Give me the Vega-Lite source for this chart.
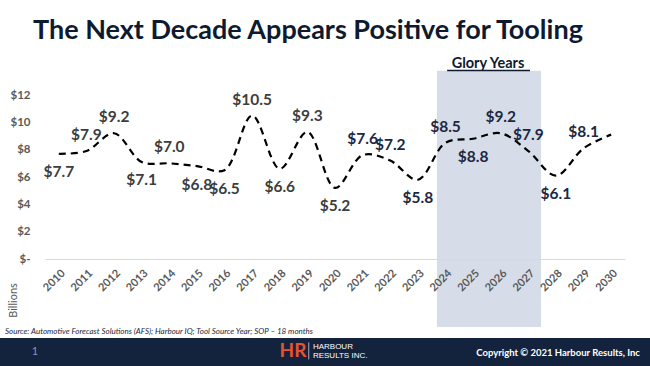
{
  "$schema": "https://vega.github.io/schema/vega-lite/v6.json",
  "width": 580,
  "height": 164,
  "autosize": {"type": "none"},
  "padding": {"left": 45, "top": 95, "right": 25, "bottom": 107},
  "background": "#ffffff",
  "resolve": {"axis": {"x": "independent", "y": "independent"}},
  "config": {
    "view": {"stroke": null},
    "axis": {"labelOverlap": false, "labelFlush": false, "labelBound": false, "ticks": false, "grid": false},
    "axisX": {
      "labelAngle": -45,
      "labelAlign": "right",
      "labelBaseline": "top",
      "domainColor": "#d9d9d9",
      "domainWidth": 1.2,
      "labelColor": "#595959",
      "labelFont": "Lato",
      "labelFontWeight": "bold",
      "labelFontSize": 11,
      "labelPadding": 8
    },
    "axisY": {
      "domain": false,
      "labelPadding": 15,
      "labelColor": "#595959",
      "labelFont": "Lato",
      "labelFontWeight": "bold",
      "labelFontSize": 11.5,
      "titleFont": "Lato",
      "titleFontWeight": "normal",
      "titleFontSize": 11,
      "titleColor": "#595959",
      "titleAngle": 270,
      "titleAlign": "center",
      "titleBaseline": "middle",
      "titleX": -32,
      "titleY": 205
    }
  },
  "title": {
    "text": "The Next Decade Appears Positive for Tooling",
    "anchor": "start",
    "frame": "group",
    "dx": -12,
    "dy": 30,
    "font": "Lato",
    "fontWeight": "bold",
    "fontSize": 27,
    "color": "#0e1a30",
    "baseline": "alphabetic",
    "offset": 20
  },
  "data": {
    "values": [
      {"year": 2010, "value": 7.7},
      {"year": 2011, "value": 7.9},
      {"year": 2012, "value": 9.2},
      {"year": 2013, "value": 7.1},
      {"year": 2014, "value": 7.0},
      {"year": 2015, "value": 6.8},
      {"year": 2016, "value": 6.5},
      {"year": 2017, "value": 10.5},
      {"year": 2018, "value": 6.6},
      {"year": 2019, "value": 9.3},
      {"year": 2020, "value": 5.2},
      {"year": 2021, "value": 7.6},
      {"year": 2022, "value": 7.2},
      {"year": 2023, "value": 5.8},
      {"year": 2024, "value": 8.5},
      {"year": 2025, "value": 8.8},
      {"year": 2026, "value": 9.2},
      {"year": 2027, "value": 7.9},
      {"year": 2028, "value": 6.1},
      {"year": 2029, "value": 8.1},
      {"year": 2030, "value": 9.1}
    ]
  },
  "layer": [
    {
      "data": {"values": [{}]},
      "mark": {"type": "rect", "color": "#d6dde8"},
      "encoding": {
        "x": {"datum": 2023.69, "type": "quantitative", "axis": null},
        "x2": {"datum": 2027.46},
        "y": {"datum": 13.78, "type": "quantitative", "axis": null},
        "y2": {"datum": -4.98}
      }
    },
    {
      "mark": {"type": "line", "interpolate": "catmull-rom", "strokeDash": [7, 5], "strokeWidth": 2.2, "color": "#000000"},
      "encoding": {
        "x": {
          "field": "year", "type": "quantitative",
          "scale": {"domain": [2009.5, 2030.5], "nice": false, "zero": false},
          "axis": {
            "values": [2010, 2011, 2012, 2013, 2014, 2015, 2016, 2017, 2018, 2019, 2020, 2021, 2022, 2023, 2024, 2025, 2026, 2027, 2028, 2029, 2030],
            "format": "d",
            "title": null,
            "labelOverlap": false,
            "zindex": 1
          }
        },
        "y": {
          "field": "value", "type": "quantitative",
          "scale": {"domain": [0, 12], "nice": false, "zero": false},
          "axis": {
            "values": [0, 2, 4, 6, 8, 10, 12],
            "labelExpr": "datum.value == 0 ? '$-  ' : '$' + datum.value",
            "title": "Billions",
            "labelOverlap": false,
            "zindex": 1
          }
        }
      }
    },
    {
      "transform": [{"filter": {"field": "year", "oneOf": [2011, 2012, 2014, 2017, 2019, 2021, 2022, 2024, 2026, 2027, 2029]}}],
      "mark": {"type": "text", "dy": -16, "baseline": "middle", "align": "center", "font": "Lato", "fontWeight": "bold", "fontSize": 15.5},
      "encoding": {
        "x": {"field": "year", "type": "quantitative", "axis": null},
        "y": {"field": "value", "type": "quantitative", "axis": null},
        "text": {"field": "value", "type": "quantitative", "format": "$.1f"},
        "color": {"condition": {"test": "datum.year >= 2021", "value": "#1c2840"}, "value": "#3d3d3d"}
      }
    },
    {
      "transform": [{"filter": {"field": "year", "oneOf": [2010, 2013, 2015, 2016, 2018, 2020, 2023, 2025, 2028]}}],
      "mark": {"type": "text", "dy": 18.5, "baseline": "middle", "align": "center", "font": "Lato", "fontWeight": "bold", "fontSize": 15.5},
      "encoding": {
        "x": {"field": "year", "type": "quantitative", "axis": null},
        "y": {"field": "value", "type": "quantitative", "axis": null},
        "text": {"field": "value", "type": "quantitative", "format": "$.1f"},
        "color": {"condition": {"test": "datum.year >= 2021", "value": "#1c2840"}, "value": "#3d3d3d"}
      }
    },
    {
      "data": {"values": [{}]},
      "mark": {"type": "text", "text": "Glory Years", "font": "Lato", "fontWeight": "bold", "fontSize": 14.5, "color": "#0e1a30", "align": "center", "baseline": "alphabetic"},
      "encoding": {
        "x": {"datum": 2025.54, "type": "quantitative", "axis": null},
        "y": {"datum": 14.0, "type": "quantitative", "axis": null}
      }
    },
    {
      "data": {"values": [{}]},
      "mark": {"type": "rule", "color": "#0e1a30", "strokeWidth": 1.5},
      "encoding": {
        "x": {"datum": 2024.06, "type": "quantitative", "axis": null},
        "x2": {"datum": 2027.06},
        "y": {"datum": 13.8, "type": "quantitative", "axis": null}
      }
    },
    {
      "data": {"values": [{}]},
      "mark": {"type": "rect", "color": "#13233d"},
      "encoding": {
        "x": {"datum": 2007.7, "type": "quantitative", "axis": null},
        "x2": {"datum": 2031.6},
        "y": {"datum": -5.78, "type": "quantitative", "axis": null},
        "y2": {"datum": -8.5}
      }
    },
    {
      "data": {"values": [{}]},
      "mark": {"type": "text", "text": "Source: Automotive Forecast Solutions (AFS); Harbour IQ; Tool Source Year; SOP – 18 months", "font": "Lato", "fontStyle": "italic", "fontSize": 8, "color": "#1c2840", "align": "left", "baseline": "middle"},
      "encoding": {
        "x": {"datum": 2008.05, "type": "quantitative", "axis": null},
        "y": {"datum": -5.34, "type": "quantitative", "axis": null}
      }
    },
    {
      "data": {"values": [{}]},
      "mark": {"type": "text", "text": "1", "font": "Lato", "fontSize": 11, "color": "#8797b0", "align": "center", "baseline": "middle"},
      "encoding": {
        "x": {"datum": 2009.14, "type": "quantitative", "axis": null},
        "y": {"datum": -6.81, "type": "quantitative", "axis": null}
      }
    },
    {
      "data": {"values": [{}]},
      "mark": {"type": "text", "text": "HR", "font": "Lato", "fontWeight": "bold", "fontSize": 19, "color": "#e8532e", "align": "center", "baseline": "middle"},
      "encoding": {
        "x": {"datum": 2018.48, "type": "quantitative", "axis": null},
        "y": {"datum": -6.73, "type": "quantitative", "axis": null}
      }
    },
    {
      "data": {"values": [{}]},
      "mark": {"type": "rule", "color": "#c8d0dc", "strokeWidth": 0.8},
      "encoding": {
        "x": {"datum": 2019.05, "type": "quantitative", "axis": null},
        "y": {"datum": -6.1, "type": "quantitative", "axis": null},
        "y2": {"datum": -7.35}
      }
    },
    {
      "data": {"values": [{}]},
      "mark": {"type": "text", "text": "HARBOUR", "font": "Liberation Sans", "fontSize": 8, "color": "#ffffff", "align": "left", "baseline": "middle"},
      "encoding": {
        "x": {"datum": 2019.2, "type": "quantitative", "axis": null},
        "y": {"datum": -6.44, "type": "quantitative", "axis": null}
      }
    },
    {
      "data": {"values": [{}]},
      "mark": {"type": "text", "text": "RESULTS INC.", "font": "Liberation Sans", "fontSize": 8, "color": "#ffffff", "align": "left", "baseline": "middle"},
      "encoding": {
        "x": {"datum": 2019.2, "type": "quantitative", "axis": null},
        "y": {"datum": -7.1, "type": "quantitative", "axis": null}
      }
    },
    {
      "data": {"values": [{}]},
      "mark": {"type": "text", "text": "Copyright © 2021 Harbour Results, Inc", "font": "Lato", "fontWeight": "bold", "fontSize": 9.5, "color": "#ffffff", "align": "right", "baseline": "middle"},
      "encoding": {
        "x": {"datum": 2031.04, "type": "quantitative", "axis": null},
        "y": {"datum": -6.88, "type": "quantitative", "axis": null}
      }
    }
  ]
}
